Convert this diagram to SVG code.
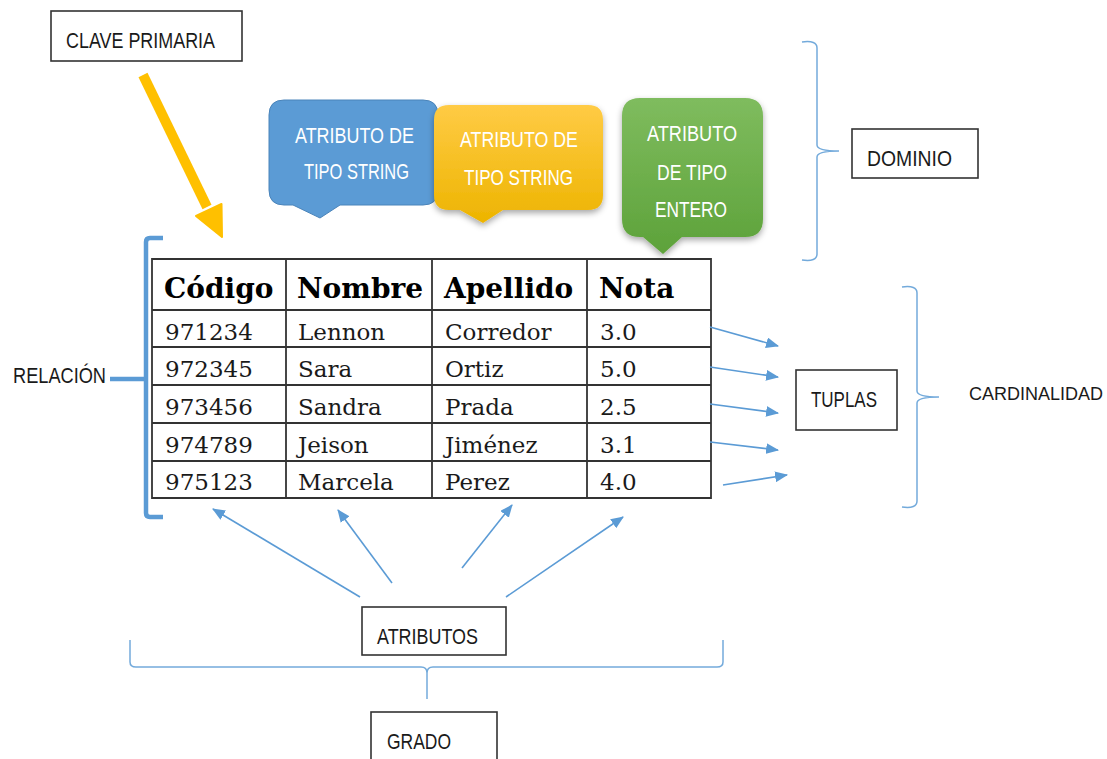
<svg xmlns="http://www.w3.org/2000/svg" width="1107" height="759" viewBox="0 0 1107 759">
<style>
.lbl{font-family:"Liberation Sans",Arial,sans-serif;font-size:22px;fill:#1a1a1a}
.wt{font-family:"Liberation Sans",Arial,sans-serif;font-size:22px;fill:#ffffff}
.box{fill:#ffffff;stroke:#333333;stroke-width:1.6}
.hd{font-family:"DejaVu Serif",serif;font-weight:bold;font-size:28px;fill:#000}
.cell{font-family:"DejaVu Serif",serif;font-size:23px;fill:#1a1a1a}
.grid{stroke:#333333;stroke-width:1.8;fill:none}
.conn{stroke:#5B9BD5;stroke-width:1.6;fill:none}
.brace{stroke:#5B9BD5;stroke-width:1.5;fill:none;opacity:0.85}
</style>
<defs>
<marker id="ah" viewBox="0 0 12 10" refX="11" refY="5" markerWidth="13" markerHeight="11" markerUnits="userSpaceOnUse" orient="auto">
<path d="M0,0 L12,5 L0,10 Z" fill="#5B9BD5"/>
</marker>
<linearGradient id="gy" x1="0" y1="0" x2="0" y2="1">
<stop offset="0" stop-color="#FFCB45"/><stop offset="1" stop-color="#EDB400"/>
</linearGradient>
<linearGradient id="gg" x1="0" y1="0" x2="0" y2="1">
<stop offset="0" stop-color="#7FBC5E"/><stop offset="1" stop-color="#5DA23A"/>
</linearGradient>
<filter id="sh" x="-20%" y="-20%" width="140%" height="150%">
<feDropShadow dx="0" dy="3" stdDeviation="3" flood-color="#000" flood-opacity="0.35"/>
</filter>
</defs>

<g id="clave-primaria">
<rect class="box" x="51" y="11" width="191" height="50"/>
<text class="lbl" x="66" y="48" textLength="149" lengthAdjust="spacingAndGlyphs">CLAVE PRIMARIA</text>
</g>

<g id="callout-blue">
<path d="M284,100 H423 Q438,100 438,115 V190 Q438,205 423,205 H340 L320,218 L293,205 H284 Q269,205 269,190 V115 Q269,100 284,100 Z" fill="#5B9BD5" stroke="#4A84BA" stroke-width="1"/>
<text class="wt" x="295" y="143" textLength="119" lengthAdjust="spacingAndGlyphs">ATRIBUTO DE</text>
<text class="wt" x="304" y="179" textLength="105" lengthAdjust="spacingAndGlyphs">TIPO STRING</text>
</g>

<g id="callout-yellow">
<path d="M449,105 H588 Q603,105 603,120 V195 Q603,210 588,210 H503 L483,223 L460,210 H449 Q434,210 434,195 V120 Q434,105 449,105 Z" fill="url(#gy)" filter="url(#sh)"/>
<text class="wt" x="460" y="147" textLength="118" lengthAdjust="spacingAndGlyphs">ATRIBUTO DE</text>
<text class="wt" x="464" y="185" textLength="109" lengthAdjust="spacingAndGlyphs">TIPO STRING</text>
</g>

<g id="callout-green">
<path d="M640,98 H745 Q763,98 763,116 V219 Q763,237 745,237 H682 L663,254 L643,237 H640 Q622,237 622,219 V116 Q622,98 640,98 Z" fill="url(#gg)" filter="url(#sh)"/>
<text class="wt" x="647" y="141" textLength="90" lengthAdjust="spacingAndGlyphs">ATRIBUTO</text>
<text class="wt" x="657" y="180" textLength="70" lengthAdjust="spacingAndGlyphs">DE TIPO</text>
<text class="wt" x="655" y="217" textLength="72" lengthAdjust="spacingAndGlyphs">ENTERO</text>
</g>

<g id="dominio">
<rect class="box" x="852" y="129" width="126" height="49"/>
<text class="lbl" x="867" y="166" textLength="85" lengthAdjust="spacingAndGlyphs">DOMINIO</text>
</g>

<g id="tabla">
<rect x="152" y="259" width="559" height="239" fill="#fff"/>
<path class="grid" d="M152,259 H711 V498 H152 Z M152,310 H711 M152,347 H711 M152,385 H711 M152,423 H711 M152,461 H711 M286,259 V498 M432,259 V498 M587,259 V498"/>
<text class="hd" x="164" y="298">Código</text>
<text class="hd" x="297" y="298">Nombre</text>
<text class="hd" x="444" y="298">Apellido</text>
<text class="hd" x="599" y="298">Nota</text>
<text class="cell" x="165" y="340">971234</text>
<text class="cell" x="298" y="340">Lennon</text>
<text class="cell" x="445" y="340">Corredor</text>
<text class="cell" x="600" y="340">3.0</text>
<text class="cell" x="165" y="377">972345</text>
<text class="cell" x="298" y="377">Sara</text>
<text class="cell" x="445" y="377">Ortiz</text>
<text class="cell" x="600" y="377">5.0</text>
<text class="cell" x="165" y="415">973456</text>
<text class="cell" x="298" y="415">Sandra</text>
<text class="cell" x="445" y="415">Prada</text>
<text class="cell" x="600" y="415">2.5</text>
<text class="cell" x="165" y="453">974789</text>
<text class="cell" x="298" y="453">Jeison</text>
<text class="cell" x="445" y="453">Jiménez</text>
<text class="cell" x="600" y="453">3.1</text>
<text class="cell" x="165" y="490">975123</text>
<text class="cell" x="298" y="490">Marcela</text>
<text class="cell" x="445" y="490">Perez</text>
<text class="cell" x="600" y="490">4.0</text>
</g>

<g id="relacion">
<text class="lbl" x="13" y="383" textLength="93" lengthAdjust="spacingAndGlyphs">RELACIÓN</text>
</g>

<g id="tuplas">
<rect class="box" x="796" y="370" width="101" height="60"/>
<text class="lbl" x="811" y="407" textLength="66" lengthAdjust="spacingAndGlyphs">TUPLAS</text>
</g>

<g id="cardinalidad">
<text class="lbl" x="969" y="400" style="font-size:18px">CARDINALIDAD</text>
</g>

<g id="atributos">
<rect class="box" x="362" y="607" width="144" height="48"/>
<text class="lbl" x="377" y="644" textLength="101" lengthAdjust="spacingAndGlyphs">ATRIBUTOS</text>
</g>

<g id="grado">
<rect class="box" x="371" y="712" width="126" height="52"/>
<text class="lbl" x="387" y="749" textLength="64" lengthAdjust="spacingAndGlyphs">GRADO</text>
</g>

<g id="connectors">
<line x1="143" y1="75" x2="207" y2="207" stroke="#FFC000" stroke-width="10"/>
<path d="M222,237 L196,216 L221.5,204 Z" fill="#FFC000" stroke="#FFC000" stroke-width="2" stroke-linejoin="round"/>
<path d="M163,238 H150 Q146,238 146,242 V513 Q146,517 150,517 H163" stroke="#5B9BD5" stroke-width="4.5" fill="none"/>
<path d="M110,379 H146" stroke="#5B9BD5" stroke-width="4.5" fill="none"/>
<line class="conn" x1="710" y1="327" x2="778" y2="346" marker-end="url(#ah)"/>
<line class="conn" x1="710" y1="367" x2="778" y2="377" marker-end="url(#ah)"/>
<line class="conn" x1="710" y1="404" x2="778" y2="413" marker-end="url(#ah)"/>
<line class="conn" x1="710" y1="442" x2="778" y2="450" marker-end="url(#ah)"/>
<line class="conn" x1="723" y1="485" x2="787" y2="475" marker-end="url(#ah)"/>
<line class="conn" x1="360" y1="597" x2="213" y2="509" marker-end="url(#ah)"/>
<line class="conn" x1="392" y1="583" x2="338" y2="510" marker-end="url(#ah)"/>
<line class="conn" x1="462" y1="568" x2="512" y2="505" marker-end="url(#ah)"/>
<line class="conn" x1="506" y1="597" x2="623" y2="517" marker-end="url(#ah)"/>
<path class="brace" d="M802,42 Q817,40 817,48 V145 Q817,151 839,151 Q817,151 817,157 V254 Q817,262 802,260"/>
<path class="brace" d="M902,287 Q917,285 917,293 V391 Q917,397 939,397 Q917,397 917,403 V501 Q917,509 902,507"/>
<path class="brace" d="M130,640 V662 Q130,667 136,667 H421 Q427,667 427,673 V699 M427,673 Q427,667 433,667 H717 Q723,667 723,662 V640"/>
</g>
</svg>
